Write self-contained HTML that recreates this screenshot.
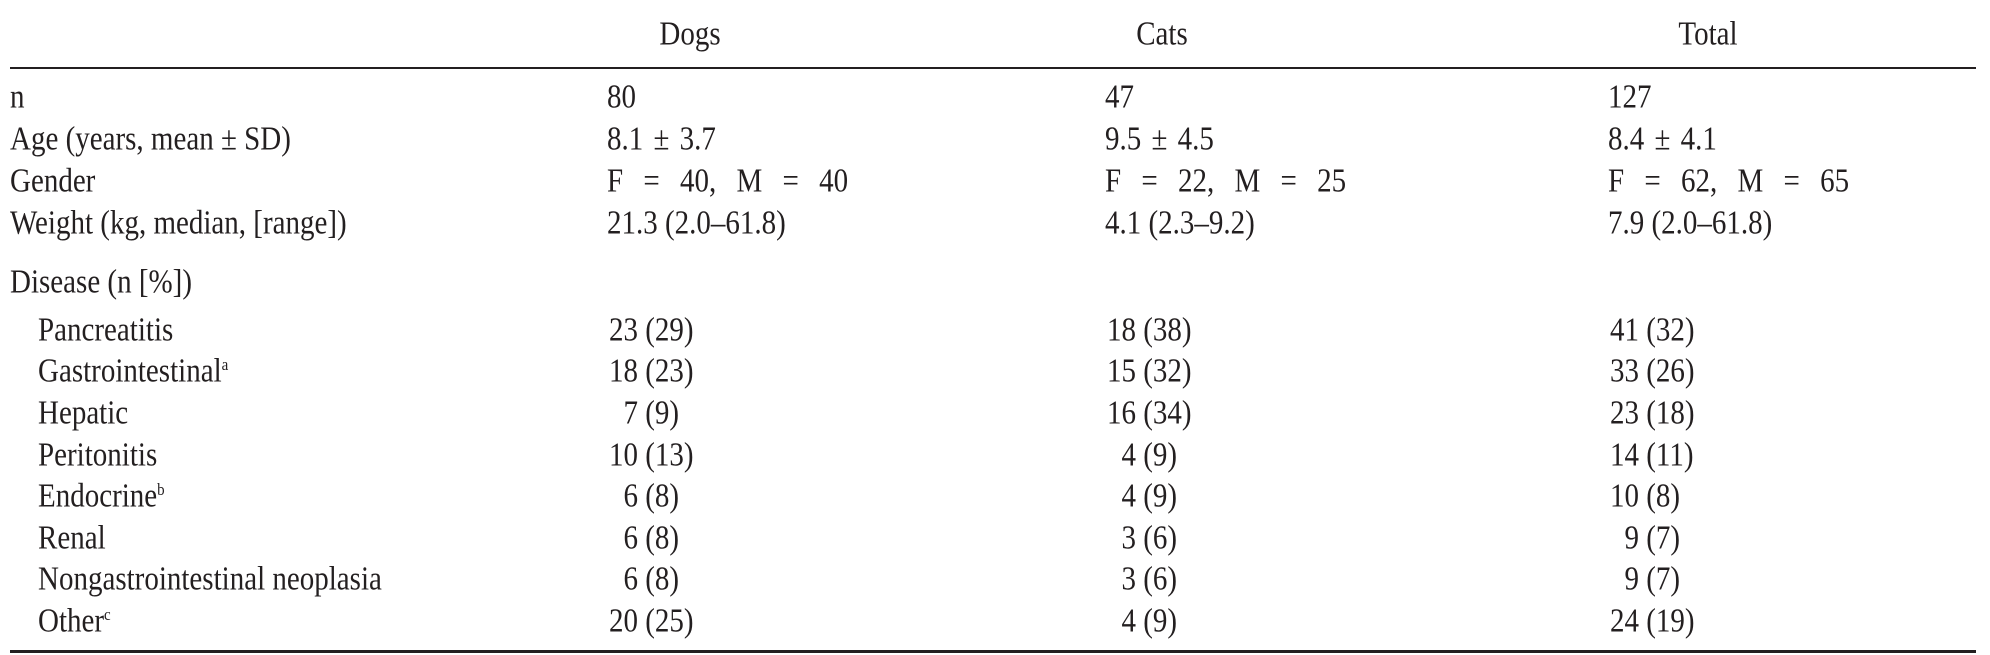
<!DOCTYPE html>
<html><head><meta charset="utf-8"><style>
html,body{margin:0;padding:0;background:#fff;}
body{width:1990px;height:655px;position:relative;overflow:hidden;font-family:"Liberation Serif","DejaVu Serif",serif;font-size:29px;color:#231f20;}
.t{position:absolute;white-space:pre;line-height:1;transform:scaleY(1.15);transform-origin:0 26px;}
.h{position:absolute;white-space:pre;line-height:1;transform:translateX(-50%) scaleY(1.15);transform-origin:50% 26px;}
.w{word-spacing:13px;}
.a{word-spacing:3px;}
.rule{position:absolute;left:10px;width:1966px;background:#231f20;}
.n{display:inline-block;width:31px;text-align:right;}
sup{font-size:15px;vertical-align:0;position:relative;top:-10px;}
</style></head><body>
<div class="h" style="left:690px;top:22px">Dogs</div>
<div class="h" style="left:1162px;top:22px">Cats</div>
<div class="h" style="left:1708px;top:22px">Total</div>
<div class="rule" style="top:67px;height:2px"></div>

<div class="t" style="left:10px;top:85px">n</div>
<div class="t" style="left:607px;top:85px">80</div>
<div class="t" style="left:1105px;top:85px">47</div>
<div class="t" style="left:1608px;top:85px">127</div>

<div class="t" style="left:10px;top:127px">Age (years, mean ± SD)</div>
<div class="t a" style="left:607px;top:127px">8.1 ± 3.7</div>
<div class="t a" style="left:1105px;top:127px">9.5 ± 4.5</div>
<div class="t a" style="left:1608px;top:127px">8.4 ± 4.1</div>

<div class="t" style="left:10px;top:169px">Gender</div>
<div class="t w" style="left:607px;top:169px">F = 40, M = 40</div>
<div class="t w" style="left:1105px;top:169px">F = 22, M = 25</div>
<div class="t w" style="left:1608px;top:169px">F = 62, M = 65</div>

<div class="t" style="left:10px;top:211px">Weight (kg, median, [range])</div>
<div class="t" style="left:607px;top:211px">21.3 (2.0–61.8)</div>
<div class="t" style="left:1105px;top:211px">4.1 (2.3–9.2)</div>
<div class="t" style="left:1608px;top:211px">7.9 (2.0–61.8)</div>

<div class="t" style="left:10px;top:270px">Disease (n [%])</div>

<div class="t" style="left:38px;top:318px">Pancreatitis</div>
<div class="t" style="left:607px;top:318px"><span class="n">23</span> (29)</div>
<div class="t" style="left:1105px;top:318px"><span class="n">18</span> (38)</div>
<div class="t" style="left:1608px;top:318px"><span class="n">41</span> (32)</div>

<div class="t" style="left:38px;top:359px">Gastrointestinal<sup>a</sup></div>
<div class="t" style="left:607px;top:359px"><span class="n">18</span> (23)</div>
<div class="t" style="left:1105px;top:359px"><span class="n">15</span> (32)</div>
<div class="t" style="left:1608px;top:359px"><span class="n">33</span> (26)</div>

<div class="t" style="left:38px;top:401px">Hepatic</div>
<div class="t" style="left:607px;top:401px"><span class="n">7</span> (9)</div>
<div class="t" style="left:1105px;top:401px"><span class="n">16</span> (34)</div>
<div class="t" style="left:1608px;top:401px"><span class="n">23</span> (18)</div>

<div class="t" style="left:38px;top:443px">Peritonitis</div>
<div class="t" style="left:607px;top:443px"><span class="n">10</span> (13)</div>
<div class="t" style="left:1105px;top:443px"><span class="n">4</span> (9)</div>
<div class="t" style="left:1608px;top:443px"><span class="n">14</span> (11)</div>

<div class="t" style="left:38px;top:484px">Endocrine<sup>b</sup></div>
<div class="t" style="left:607px;top:484px"><span class="n">6</span> (8)</div>
<div class="t" style="left:1105px;top:484px"><span class="n">4</span> (9)</div>
<div class="t" style="left:1608px;top:484px"><span class="n">10</span> (8)</div>

<div class="t" style="left:38px;top:526px">Renal</div>
<div class="t" style="left:607px;top:526px"><span class="n">6</span> (8)</div>
<div class="t" style="left:1105px;top:526px"><span class="n">3</span> (6)</div>
<div class="t" style="left:1608px;top:526px"><span class="n">9</span> (7)</div>

<div class="t" style="left:38px;top:567px">Nongastrointestinal neoplasia</div>
<div class="t" style="left:607px;top:567px"><span class="n">6</span> (8)</div>
<div class="t" style="left:1105px;top:567px"><span class="n">3</span> (6)</div>
<div class="t" style="left:1608px;top:567px"><span class="n">9</span> (7)</div>

<div class="t" style="left:38px;top:609px">Other<sup>c</sup></div>
<div class="t" style="left:607px;top:609px"><span class="n">20</span> (25)</div>
<div class="t" style="left:1105px;top:609px"><span class="n">4</span> (9)</div>
<div class="t" style="left:1608px;top:609px"><span class="n">24</span> (19)</div>

<div class="rule" style="top:650px;height:3px"></div>
</body></html>
